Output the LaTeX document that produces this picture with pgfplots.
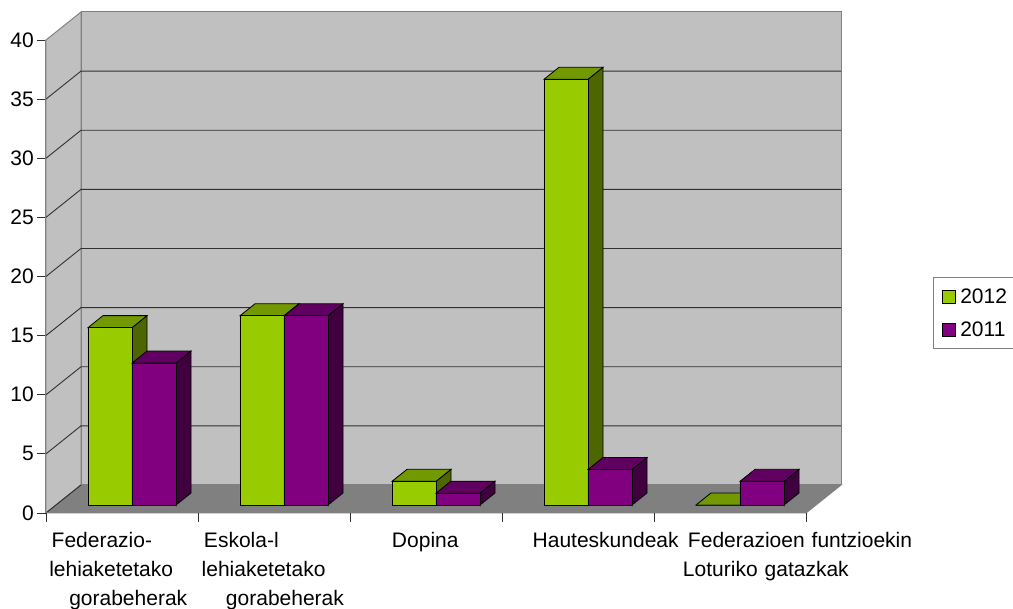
\documentclass[border=0pt]{standalone}
\usepackage{pgfplots}
\pgfplotsset{compat=1.18}
\usepackage{fontspec}
\setmainfont{Liberation Sans}

\definecolor{wall}{HTML}{C0C0C0}
\definecolor{floorgray}{HTML}{808080}
\definecolor{gridline}{HTML}{303030}
\definecolor{g2012}{HTML}{99CC00}
\definecolor{gtop}{HTML}{739900}
\definecolor{gside}{HTML}{4D6600}
\definecolor{p2011}{HTML}{800080}
\definecolor{ptop}{HTML}{600060}
\definecolor{pside}{HTML}{400040}

% depth of the box and of the bars, in axis units
\def\dxw{0.2303}
\def\dyw{2.368}
\def\dxb{0.0987}
\def\dyb{1.015}
\def\bw{0.2895}

% gridline across the left wall and the back wall
\newcommand{\wallgrid}[1]{%
  \pgfmathsetmacro{\yy}{#1+\dyw}
  \pgfmathsetmacro{\xx}{5+\dxw}
  \addplot[gridline, line width=0.9pt, forget plot] coordinates {(0,#1) (\dxw,\yy) (\xx,\yy)};
}
% top and side of a bar: left edge, value, top colour, side colour
\newcommand{\barfaces}[4]{%
  \pgfmathsetmacro{\xa}{#1}
  \pgfmathsetmacro{\xb}{#1+\bw}
  \pgfmathsetmacro{\xc}{#1+\bw+\dxb}
  \pgfmathsetmacro{\xd}{#1+\dxb}
  \pgfmathsetmacro{\yc}{#2+\dyb}
  \addplot[fill=#4, draw=black, line width=0.8pt, xshift=10pt, yshift=8pt, forget plot]
    coordinates {(\xb,0) (\xc,\dyb) (\xc,\yc) (\xb,#2)} -- cycle;
  \addplot[fill=#3, draw=black, line width=0.8pt, xshift=10pt, yshift=8pt, forget plot]
    coordinates {(\xa,#2) (\xd,\yc) (\xc,\yc) (\xb,#2)} -- cycle;
}

\begin{document}
\begin{tikzpicture}
\useasboundingbox (-46pt,-96pt) rectangle (967pt,513pt);
\begin{axis}[
    scale only axis,
    width=760pt,
    height=473pt,
    xmin=0, xmax=5,
    ymin=0, ymax=40,
    clip=false,
    axis on top,
    axis x line*=bottom,
    axis y line*=left,
    axis line style={floorgray, line width=1pt},
    tick align=outside,
    major tick length=9pt,
    tick style={gridline, line width=0.9pt},
    xtick={0,1,2,3,4,5},
    x tick label as interval,
    xticklabels={
      {\hspace*{129.7pt}Federazio-\\\hspace*{127.3pt}lehiaketetako\\\hspace*{147.3pt}gorabeherak},
      {\hspace*{130pt}Eskola-l\\\hspace*{127.7pt}lehiaketetako\\\hspace*{152pt}gorabeherak},
      {\hspace*{166pt}Dopina},
      {\hspace*{154.7pt}Hauteskundeak},
      {\hspace*{158pt}Federazioen funtzioekin\\\hspace*{153pt}Loturiko gatazkak}
    },
    xticklabel style={text width=400pt, align=left, anchor=north,
      font=\fontsize{21}{29.3}\selectfont, yshift=-6.5pt},
    ytick={0,5,10,15,20,25,30,35,40},
    yticklabel style={font=\fontsize{21}{24}\selectfont, inner sep=3pt,
      /pgf/number format/assume math mode=true},
    legend style={at={(887pt,236pt)}, anchor=north west, draw=floorgray, fill=white,
      line width=1pt, font=\fontsize{21}{24}\selectfont, inner xsep=8pt, inner ysep=9pt,
      row sep=13pt, /tikz/column 1/.style={column sep=3pt}, /tikz/column 2/.style={column sep=20pt}},
    legend cell align=left,
]

% walls and floor
\addplot[fill=wall, draw=floorgray, line width=1pt, forget plot]
    coordinates {(0,0) (0,40) (0.2303,42.368) (0.2303,2.368)} -- cycle;
\addplot[fill=wall, draw=floorgray, line width=1pt, forget plot]
    coordinates {(0.2303,2.368) (0.2303,42.368) (5.2303,42.368) (5.2303,2.368)} -- cycle;
\wallgrid{5}
\wallgrid{10}
\wallgrid{15}
\wallgrid{20}
\wallgrid{25}
\wallgrid{30}
\wallgrid{35}
\addplot[fill=floorgray, draw=floorgray, line width=1pt, forget plot]
    coordinates {(0,0) (5,0) (5.2303,2.368) (0.2303,2.368)} -- cycle;
\addplot[gridline, line width=0.9pt, forget plot] coordinates {(0,0) (0.2303,2.368)};

% 2012
\barfaces{0.2105}{15}{gtop}{gside}
\barfaces{1.2105}{16}{gtop}{gside}
\barfaces{2.2105}{2}{gtop}{gside}
\barfaces{3.2105}{36}{gtop}{gside}
\barfaces{4.2105}{0}{gtop}{gside}
\addplot[ybar, bar width=44pt, bar shift=-22pt, fill=g2012, draw=black, line width=0.8pt,
    xshift=10pt, yshift=8pt, forget plot]
    coordinates {(0.5,15) (1.5,16) (2.5,2) (3.5,36) (4.5,0)};

% 2011
\barfaces{0.5}{12}{ptop}{pside}
\barfaces{1.5}{16}{ptop}{pside}
\barfaces{2.5}{1}{ptop}{pside}
\barfaces{3.5}{3}{ptop}{pside}
\barfaces{4.5}{2}{ptop}{pside}
\addplot[ybar, bar width=44pt, bar shift=22pt, fill=p2011, draw=black, line width=0.8pt,
    xshift=10pt, yshift=8pt, forget plot]
    coordinates {(0.5,12) (1.5,16) (2.5,1) (3.5,3) (4.5,2)};

% legend
\addlegendimage{legend image code/.code={\draw[fill=g2012, draw=black, line width=0.8pt] (0pt,-6.5pt) rectangle (13pt,6.5pt);}}
\addlegendentry{2012}
\addlegendimage{legend image code/.code={\draw[fill=p2011, draw=black, line width=0.8pt] (0pt,-6.5pt) rectangle (13pt,6.5pt);}}
\addlegendentry{2011}
\end{axis}
\end{tikzpicture}
\end{document}
